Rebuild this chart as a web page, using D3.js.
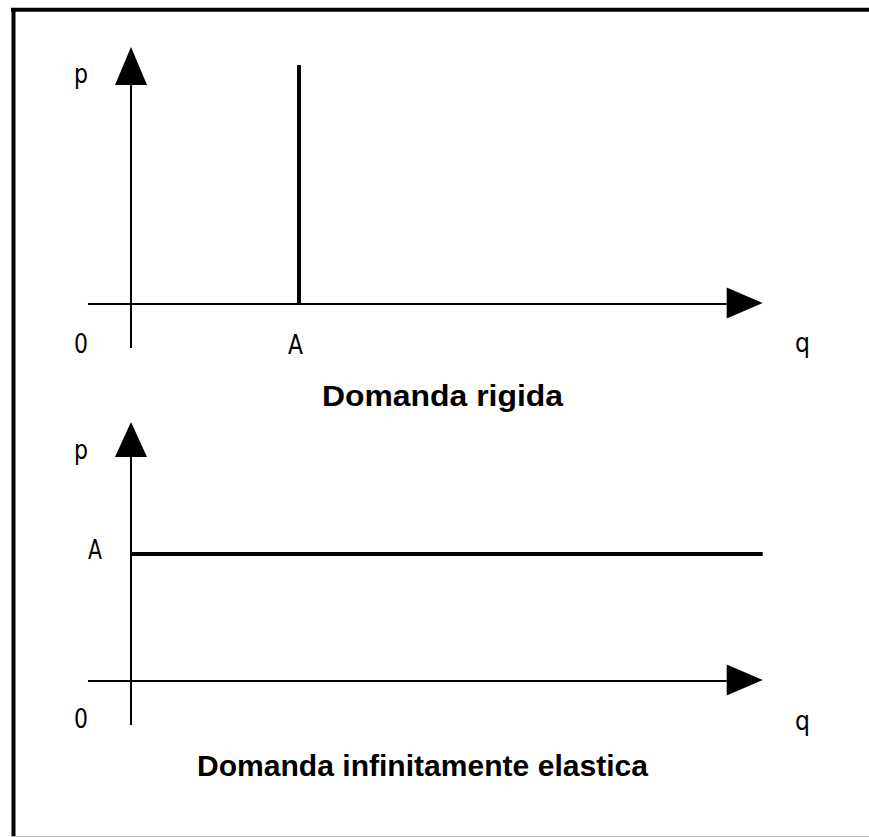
<!DOCTYPE html>
<html>
<head>
<meta charset="utf-8">
<script src="https://d3js.org/d3.v7.min.js"></script>
<style>
  html, body { margin: 0; padding: 0; background: #fff; }
  svg { display: block; }
</style>
</head>
<body>
<div id="chart"></div>
<script>
// data: two demand panels, A is the unit on each scale
var panelTitles = ["Domanda rigida", "Domanda infinitamente elastica"];
var axisNames = ["p", "q"];
var originLabel = "0";
var pointLabel = "A";
var qRange = [-0.256, 3.76];          // extent of the q axis, in units of A
var pRangeTop = [-0.184, 1.075];      // extent of the p axis, top panel
var pRangeBottom = [-0.346, 2.04];    // extent of the p axis, bottom panel
var rigidQ = [1, 1];                  // vertical demand at q = A
var rigidP = [0, 1];
var elasticQ = [0, 3.76];             // horizontal demand at p = A
var elasticP = [1, 1];

var width = 869, height = 837;

var svg = d3.select("#chart").append("svg")
    .attr("width", width)
    .attr("height", height);

// frame
svg.append("line").attr("x1", 11).attr("x2", width).attr("y1", 9.7).attr("y2", 9.7)
    .attr("stroke", "#000").attr("stroke-width", 4);
svg.append("line").attr("x1", 13.5).attr("x2", 13.5).attr("y1", 8).attr("y2", height)
    .attr("stroke", "#000").attr("stroke-width", 4);
svg.append("line").attr("x1", 11).attr("x2", width).attr("y1", 836.5).attr("y2", 836.5)
    .attr("stroke", "#bbb").attr("stroke-width", 1);

var x = d3.scaleLinear().domain([0, 1]).range([131, 299]);

var panels = [
  { y: d3.scaleLinear().domain([0, 1]).range([304, 65]), pRange: pRangeTop,
    qs: rigidQ, ps: rigidP, titleY: 406, titleX: 322, titleW: 241, titleSize: 30,
    arrowH: 38, pLabelY: 83, zeroY: 353, qLabelY: 352 },
  { y: d3.scaleLinear().domain([0, 1]).range([681, 554]), pRange: pRangeBottom,
    qs: elasticQ, ps: elasticP, titleY: 776, titleX: 197, titleW: 451, titleSize: 29,
    arrowH: 35, pLabelY: 459, zeroY: 728, qLabelY: 730 }
];

function label(txt, cx, by, w) {
  svg.append("text")
      .attr("x", cx - w / 2).attr("y", by)
      .attr("textLength", w).attr("lengthAdjust", "spacingAndGlyphs")
      .attr("font-family", "DejaVu Sans").attr("font-size", 26)
      .attr("fill", "#000")
      .text(txt);
}

panels.forEach(function (pn, i) {
  var y = pn.y;
  var x0 = x(0), y0 = y(0);
  var qEnd = x(qRange[1]), pEnd = y(pn.pRange[1]);

  // p axis
  svg.append("line")
      .attr("x1", x0).attr("x2", x0)
      .attr("y1", y(pn.pRange[0])).attr("y2", pEnd + pn.arrowH)
      .attr("stroke", "#000").attr("stroke-width", 2);
  svg.append("path")
      .attr("d", "M" + x0 + "," + pEnd + "L" + (x0 + 16) + "," + (pEnd + pn.arrowH) +
                 "L" + (x0 - 16) + "," + (pEnd + pn.arrowH) + "Z")
      .attr("fill", "#000");

  // q axis
  svg.append("line")
      .attr("x1", x(qRange[0])).attr("x2", qEnd - 36)
      .attr("y1", y0).attr("y2", y0)
      .attr("stroke", "#000").attr("stroke-width", 2);
  svg.append("path")
      .attr("d", "M" + qEnd + "," + (y0 - 1) + "L" + (qEnd - 36) + "," + (y0 - 16.5) +
                 "L" + (qEnd - 36) + "," + (y0 + 14.5) + "Z")
      .attr("fill", "#000");

  // demand curve
  var line = d3.line().x(function (d) { return x(d[0]); }).y(function (d) { return y(d[1]); });
  svg.append("path")
      .attr("d", line(d3.zip(pn.qs, pn.ps)))
      .attr("fill", "none").attr("stroke", "#000").attr("stroke-width", 4);

  // labels
  label(axisNames[0], 81, pn.pLabelY, 14);
  label(originLabel, 81, pn.zeroY, 14);
  label(axisNames[1], 802.5, pn.qLabelY, 15);
  if (i === 0) label(pointLabel, x(1) - 3.5, 354, 15);
  else label(pointLabel, 95, y(1) + 5, 14);

  svg.append("text")
      .attr("x", pn.titleX).attr("y", pn.titleY)
      .attr("textLength", pn.titleW).attr("lengthAdjust", "spacingAndGlyphs")
      .attr("font-family", "Liberation Sans").attr("font-weight", "bold")
      .attr("font-size", pn.titleSize).attr("fill", "#000")
      .text(panelTitles[i]);
});
</script>
</body>
</html>
